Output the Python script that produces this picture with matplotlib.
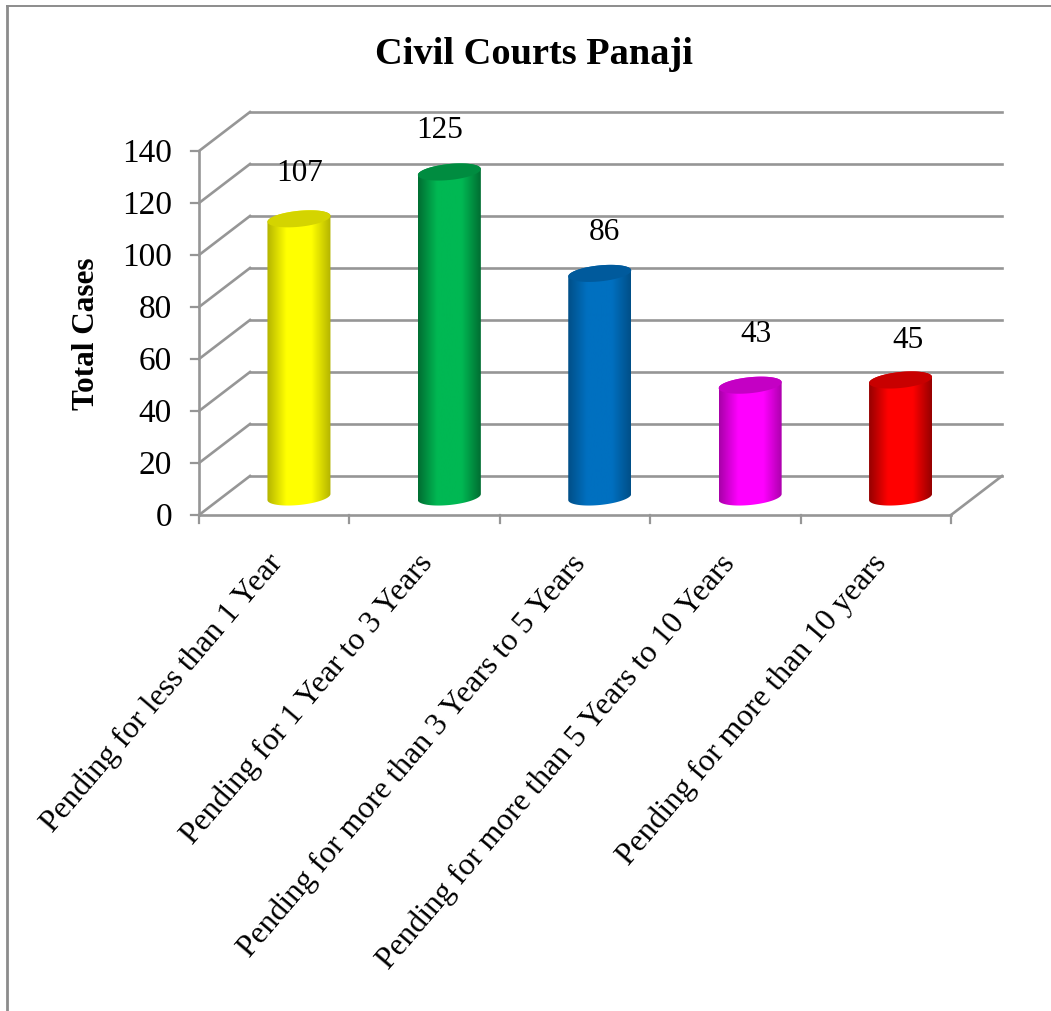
import numpy as np
import matplotlib
matplotlib.use('Agg')
import matplotlib.pyplot as plt
from matplotlib.colors import LinearSegmentedColormap
from matplotlib.lines import Line2D
from matplotlib.patches import PathPatch, Polygon
from matplotlib.path import Path

plt.rcParams['font.family'] = ['Liberation Serif', 'DejaVu Serif']

categories = ['Pending for less than 1 Year', 'Pending for 1 Year to 3 Years',
              'Pending for more than 3 Years to 5 Years',
              'Pending for more than 5 Years to 10 Years',
              'Pending for more than 10 years']
values = [107, 125, 86, 43, 45]
y_ticks = [0, 20, 40, 60, 80, 100, 120, 140]

side_colors = ['#FFFF00', '#00B853', '#0070C0', '#FF00FF', '#FF0000']
edge_colors = ['#B4B400', '#006E32', '#004F88', '#A800A8', '#960000']
top_colors = ['#D4D400', '#008C40', '#005A9C', '#C400C4', '#C80000']

# data label nudges in pixels from the middle of each cylinder top
label_dx = [1, -10, 5, 6, 7]
label_dy = [46, 42, 42, 52, 40]

GRID = '#969696'
W, H = 1051, 1012

fig = plt.figure(figsize=(W / 100, H / 100), dpi=100)
# front edge of the plot box: x 199..951, y 516..152 in pixels
ax = fig.add_axes([199 / W, 1 - 516 / H, 752 / W, 364 / H])
ax.set_xlim(0, 5)
ax.set_ylim(0, 140)
ax.axis('off')

x_px = 752 / 5
y_px = 364 / 140
depth_x = 51 / x_px
depth_y = 39 / y_px


def line(xs, ys, lw=1.9, zorder=1):
    ax.add_line(Line2D(xs, ys, color=GRID, lw=lw, clip_on=False,
                       solid_capstyle='projecting', zorder=zorder))


# back wall gridlines and the slanted side wall lines
for v in y_ticks:
    line([depth_x, 5 + depth_x], [v + depth_y, v + depth_y])
    line([0, depth_x], [v, v + depth_y])
    line([-8 / x_px, 0], [v, v], lw=1.6)

# front axes and floor edge
line([0, 0], [0, 140])
line([0, 5], [0, 0])
line([5, 5 + depth_x], [0, depth_y])
for i in range(6):
    line([i, i], [0, -8 / y_px], lw=1.6)

for i, v in enumerate(values):
    cx = i + 0.5 + (depth_x - 1.5 / x_px) / 2
    a = 31.5 / x_px
    b = 8 / y_px
    tilt = 3 / y_px
    cy0 = (depth_y - 3 / y_px) / 2
    cy1 = v + cy0
    t = np.linspace(0, np.pi, 60)
    # cylinder outline: lower half of the base, then up and across the top
    xs = np.concatenate([cx + a * np.cos(t + np.pi), cx + a * np.cos(t)])
    ys = np.concatenate([cy0 - tilt * np.cos(t) - b * np.sin(t),
                         cy1 + tilt * np.cos(t) + b * np.sin(t)])
    body = Path(np.column_stack([xs, ys]))
    cmap = LinearSegmentedColormap.from_list(
        'c', [(0, edge_colors[i]), (0.3, side_colors[i]), (0.7, side_colors[i]),
              (1, edge_colors[i])])
    img = ax.imshow(np.linspace(0, 1, 128)[None, :], cmap=cmap, aspect='auto',
                    extent=[cx - a, cx + a, 0, 140 + depth_y], zorder=3,
                    clip_on=True)
    patch = PathPatch(body, transform=ax.transData, fc='none', ec='none')
    ax.add_patch(patch)
    img.set_clip_path(patch)

    t = np.linspace(0, 2 * np.pi, 120)
    top = np.column_stack([cx + a * np.cos(t),
                           cy1 + tilt * np.cos(t) + b * np.sin(t)])
    ax.add_patch(Polygon(top, closed=True, fc=top_colors[i], ec='none', zorder=4))

    ax.annotate(str(v), (cx, cy1), xytext=(label_dx[i] * 0.72, label_dy[i] * 0.72),
                textcoords='offset points', ha='center', va='center',
                fontsize=22.5, color='black', zorder=5, annotation_clip=False)

ax.set_xlim(0, 5)
ax.set_ylim(0, 140)

for v in y_ticks:
    ax.annotate(str(v), (0, v), xytext=(-19.5, -1.5), textcoords='offset points',
                ha='right', va='center', fontsize=24, annotation_clip=False)

# slanted category labels end just under the axis, between the ticks
label_ends = [266, 417, 569, 719, 870]
for name, px in zip(categories, label_ends):
    fig.text(px / W, 1 - 549 / H, name, rotation=49.5, rotation_mode='anchor',
             ha='right', va='top', fontsize=22.8)

fig.text(534 / W, 1 - 55 / H, 'Civil Courts Panaji', ha='center', va='center',
         fontsize=27.6, fontweight='bold')
fig.text(87 / W, 1 - 334 / H, 'Total Cases', rotation=90, ha='center', va='center',
         fontsize=22.5, fontweight='bold')

# chart frame along the top and left edges
fig.add_artist(Line2D([7 / W, 7 / W], [0, 1 - 7 / H], color='#8C8C8C',
                      lw=2.0, transform=fig.transFigure))
fig.add_artist(Line2D([7 / W, 1], [1 - 7 / H, 1 - 7 / H], color='#8C8C8C',
                      lw=1.4, transform=fig.transFigure))

fig.savefig('out.png', dpi=100)
